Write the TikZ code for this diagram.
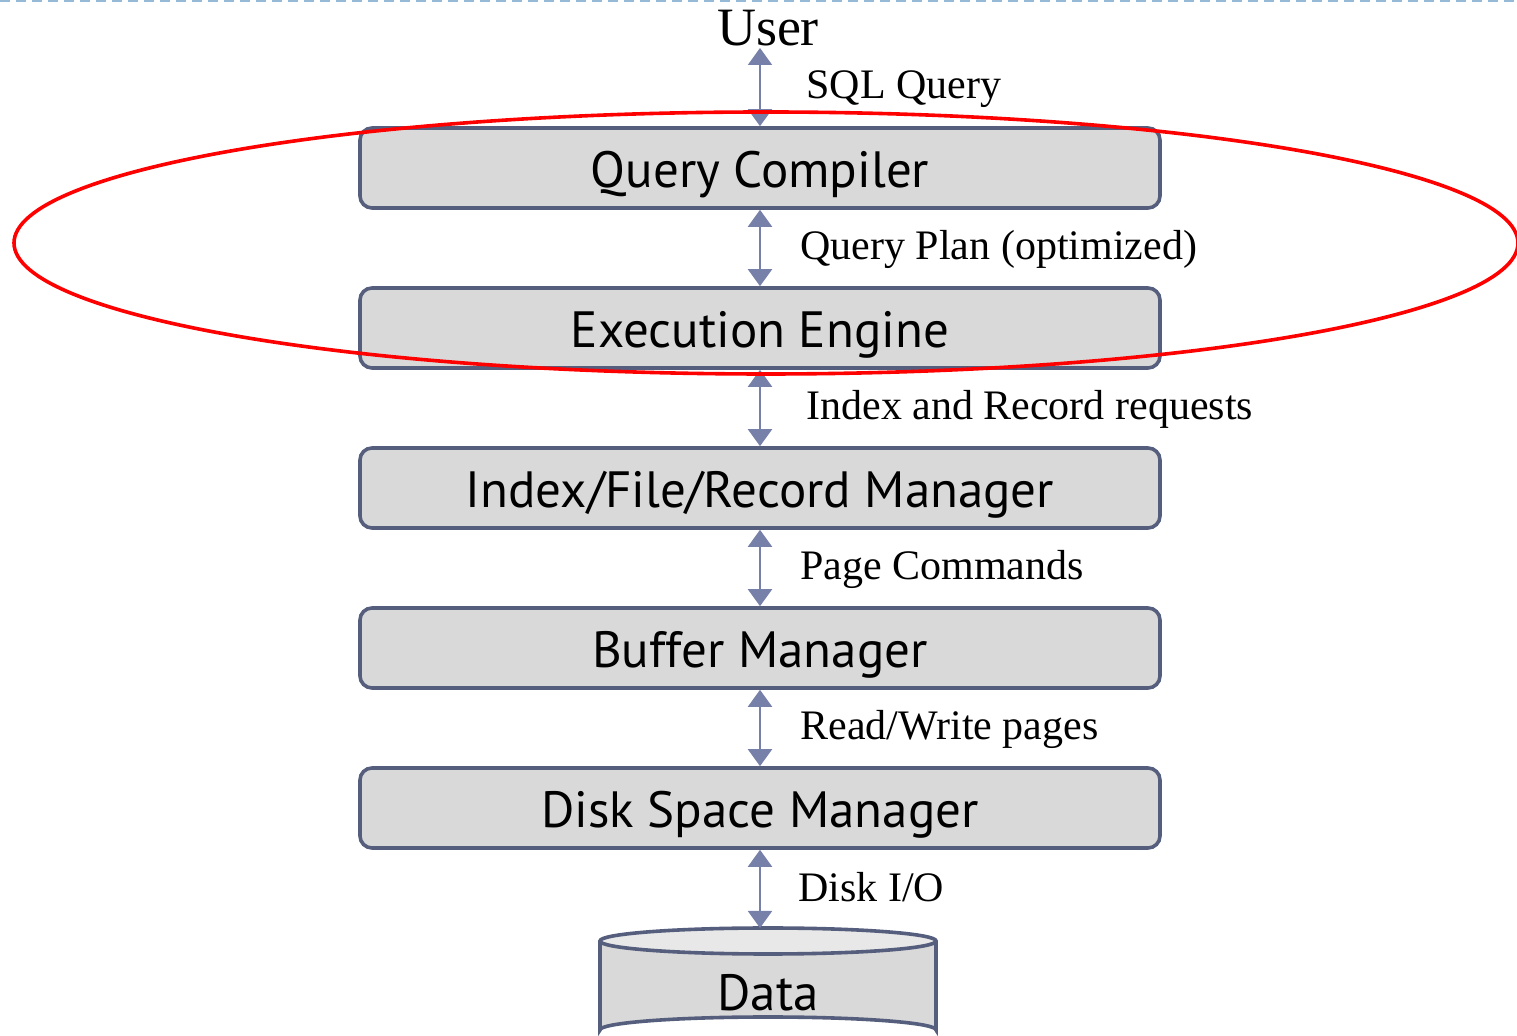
\documentclass[tikz,border=0pt]{standalone}
\usepackage{fontspec}
\setmainfont{Liberation Serif}
\newfontfamily\boxfont{PT Sans}
\usetikzlibrary{arrows.meta}

\definecolor{boxfill}{RGB}{217,217,217}
\definecolor{boxedge}{RGB}{86,94,126}
\definecolor{linkcol}{RGB}{118,128,168}
\definecolor{rulecol}{RGB}{150,185,215}

\tikzset{
    layer/.style={draw=boxedge, fill=boxfill, line width=1.8pt, rounded corners=6pt,
        minimum width=400pt, minimum height=40pt, inner sep=0pt,
        text height=24pt, text depth=4pt,
        font=\boxfont\fontsize{25.5}{30}\selectfont},
    link/.style={linkcol, line width=1pt, {Triangle[width=12pt,length=8.5pt]}-{Triangle[width=12pt,length=8.5pt]}},
    lbl/.style={anchor=west, inner sep=0pt, font=\fontsize{21}{24}\selectfont}
}

\begin{document}
\begin{tikzpicture}[x=0.5pt, y=-0.5pt]
        \useasboundingbox[clip] (0,0) rectangle (1517,1036);
        % slide rule at the top
        \draw[rulecol, line width=0.8pt, dash pattern=on 5pt off 3pt] (0,1) -- (1517,1);

        % the layers
        \node (user) at (768,28) [inner sep=0pt, font=\fontsize{27}{30}\selectfont] {User};
        \node[layer] (qc) at (760,168) {Query Compiler};
        \node[layer] (ee) at (760,328) {Execution Engine};
        \node[layer] (ifr) at (760,488) {Index/File/Record Manager};
        \node[layer] (bm) at (760,648) {Buffer Manager};
        \node[layer] (dsm) at (760,808) {Disk Space Manager};

        % the disk
        \filldraw[draw=boxedge, fill=boxfill, line width=1.8pt]
            (600,941) -- (600,1030) arc[start angle=180, end angle=360, x radius=168, y radius=13]
            -- (936,941);
        \filldraw[draw=boxedge, fill=boxfill!60!white, line width=1.8pt]
            (768,941) ellipse [x radius=168, y radius=13];
        \coordinate (datatop) at (760,928);
        \node (data) at (768,993) [inner sep=0pt, font=\boxfont\fontsize{25.5}{30}\selectfont] {Data};

        % connectors
        \coordinate (ub) at (760,48);
        \draw[link] (ub) -- (qc.north);
        \draw[link] (qc.south) -- (ee.north);
        \draw[link] (ee.south) -- (ifr.north);
        \draw[link] (ifr.south) -- (bm.north);
        \draw[link] (bm.south) -- (dsm.north);
        \draw[link] (dsm.south) -- (datatop);

        % labels
        \node[lbl] (l1) at (806,89) {SQL Query};
        \node[lbl] (l2) at (800,249) {Query Plan (optimized)};
        \node[lbl] (l3) at (806,409) {Index and Record requests};
        \node[lbl] (l4) at (800,569) {Page Commands};
        \node[lbl] (l5) at (800,729) {Read/Write pages};
        \node[lbl] (l6) at (798,887) {Disk I/O};

        % the circled part
        \draw[red, line width=1.8pt] (766,243) ellipse [x radius=752, y radius=131];
    \end{tikzpicture}
\end{document}
